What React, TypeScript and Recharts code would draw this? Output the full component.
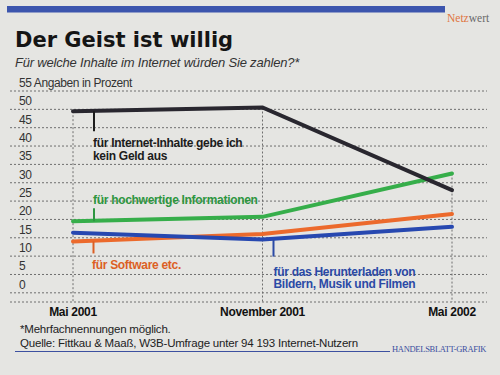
import { LineChart, Line, XAxis, YAxis, CartesianGrid, ReferenceLine } from "recharts";

const months = ["Mai 2001", "November 2001", "Mai 2002"];
const keinGeld = [49.5, 50.5, 28];
const hochwertig = [19.5, 20.7, 32.5];
const software = [14, 16, 21.5];
const downloads = [16.4, 14.5, 18];
const yTicks = [0, 5, 10, 15, 20, 25, 30, 35, 40, 45, 50, 55];

const data = months.map((month, i) => ({
  month,
  keinGeld: keinGeld[i],
  hochwertig: hochwertig[i],
  software: software[i],
  downloads: downloads[i],
}));

const SANS = "'Liberation Sans', Arial, sans-serif";
const SERIF = "'Liberation Serif', 'Times New Roman', serif";
const GRID = "#6e6e6e";

// note text hung off one point of a line, with a short stem
function note(opts: {
  index: number;
  color: string;
  stemDx: number;
  stemFrom: number;
  stemTo: number;
  textDx: number;
  baseline: number;
  gap?: number;
  lines: string[];
}) {
  return (p: any) => {
    if (p.index !== opts.index) return <g key={p.index} />;
    const { x, y } = p;
    return (
      <g key={p.index}>
        <line
          x1={x + opts.stemDx}
          x2={x + opts.stemDx}
          y1={y + opts.stemFrom}
          y2={y + opts.stemTo}
          stroke={opts.color}
          strokeWidth={2}
        />
        {opts.lines.map((t, i) => (
          <text
            key={t}
            x={x + opts.textDx}
            y={y + opts.baseline + i * (opts.gap ?? 13.5)}
            fill={opts.color}
            fontFamily={SANS}
            fontWeight="bold"
            fontSize={12}
            letterSpacing={-0.3}
          >
            {t}
          </text>
        ))}
      </g>
    );
  };
}

const YTick = ({ y, payload }: any) => (
  <text x={19} y={y - 4} fill="#333" fontFamily={SANS} fontSize={12} letterSpacing={-0.4}>
    {payload.value === 55 ? "55  Angaben in Prozent" : payload.value}
  </text>
);

const XTick = ({ x, y, payload }: any) => (
  <text
    x={x}
    y={y + 13.5}
    textAnchor="middle"
    fill="#111"
    fontFamily={SANS}
    fontWeight="bold"
    fontSize={12}
    letterSpacing={-0.3}
  >
    {payload.value}
  </text>
);

export default function App() {
  const tops = data.map((d) => Math.max(d.keinGeld, d.hochwertig, d.software, d.downloads));
  return (
    <div
      style={{
        position: "absolute",
        left: 0,
        top: 0,
        width: 500,
        height: 375,
        background: "#e5e5e2",
        overflow: "hidden",
      }}
    >
      <svg width={500} height={375} style={{ position: "absolute", left: 0, top: 0 }}>
        <rect x={7} y={6} width={438} height={6.5} fill="#3c55ad" />
        <text x={447} y={22} fontFamily={SERIF} fontSize={11.5}>
          <tspan fill="#e0743f">Netz</tspan>
          <tspan fill="#6a6a6a">wert</tspan>
        </text>
        <text x={15} y={47} fontFamily="'DejaVu Sans', sans-serif" fontWeight="bold" fontSize={21} fill="#151515">
          Der Geist ist willig
        </text>
        <text x={15} y={67} fontFamily={SANS} fontStyle="italic" fontSize={13} letterSpacing={-0.2} fill="#333">
          Für welche Inhalte im Internet würden Sie zahlen?*
        </text>
        <text x={20} y={333} fontFamily={SANS} fontSize={11.5} letterSpacing={-0.2} fill="#222">
          *Mehrfachnennungen möglich.
        </text>
        <text x={20} y={347} fontFamily={SANS} fontSize={11.5} letterSpacing={-0.2} fill="#222">
          Quelle: Fittkau &amp; Maaß, W3B-Umfrage unter 94 193 Internet-Nutzern
        </text>
        <line x1={15} x2={390} y1={351.5} y2={351.5} stroke="#3d50a0" strokeWidth={1.2} />
        <text x={392} y={352} fontFamily={SERIF} fontSize={8.5} letterSpacing={-0.3} fill="#3b4fa0">
          HANDELSBLATT-GRAFIK
        </text>
      </svg>
      <div style={{ position: "absolute", left: 0, top: 0 }}>
        <LineChart width={500} height={375} data={data} margin={{ top: 91, right: 13, bottom: 43, left: 0 }}>
          <CartesianGrid vertical={false} stroke={GRID} strokeDasharray="2 2" />
          {months.map((m, i) => (
            <ReferenceLine
              key={m}
              segment={[
                { x: m, y: tops[i] },
                { x: m, y: -2.5 },
              ]}
              stroke={GRID}
              strokeDasharray="2 2"
            />
          ))}
          <XAxis
            dataKey="month"
            height={30}
            padding={{ left: 63, right: 35 }}
            axisLine={false}
            tickLine={false}
            tickSize={0}
            tickMargin={0}
            interval={0}
            tick={<XTick />}
          />
          <YAxis
            width={10}
            domain={[-2.5, 55]}
            ticks={yTicks}
            interval={0}
            axisLine={false}
            tickLine={false}
            tick={<YTick />}
          />
          <Line
            dataKey="software"
            stroke="#ec6a2c"
            strokeWidth={4}
            strokeLinecap="round"
            dot={false}
            isAnimationActive={false}
            label={note({
              index: 0,
              color: "#dc5f24",
              stemDx: 20.5,
              stemFrom: 0,
              stemTo: 12,
              textDx: 19,
              baseline: 28,
              lines: ["für Software etc."],
            })}
          />
          <Line
            dataKey="downloads"
            stroke="#2748b0"
            strokeWidth={4}
            strokeLinecap="round"
            dot={false}
            isAnimationActive={false}
            label={note({
              index: 1,
              color: "#2b4aa6",
              stemDx: 11,
              stemFrom: 0,
              stemTo: 17,
              textDx: 11,
              baseline: 36,
              gap: 12.8,
              lines: ["für das Herunterladen von", "Bildern, Musik und Filmen"],
            })}
          />
          <Line
            dataKey="hochwertig"
            stroke="#36ae4a"
            strokeWidth={4}
            strokeLinecap="round"
            dot={false}
            isAnimationActive={false}
            label={note({
              index: 0,
              color: "#2d9640",
              stemDx: 21,
              stemFrom: -13,
              stemTo: 0,
              textDx: 20,
              baseline: -17,
              lines: ["für hochwertige Informationen"],
            })}
          />
          <Line
            dataKey="keinGeld"
            stroke="#29272f"
            strokeWidth={4}
            strokeLinecap="round"
            dot={false}
            isAnimationActive={false}
            label={note({
              index: 0,
              color: "#1c1c1c",
              stemDx: 21,
              stemFrom: 0,
              stemTo: 20,
              textDx: 20,
              baseline: 35.5,
              lines: ["für Internet-Inhalte gebe ich", "kein Geld aus"],
            })}
          />
        </LineChart>
      </div>
    </div>
  );
}
